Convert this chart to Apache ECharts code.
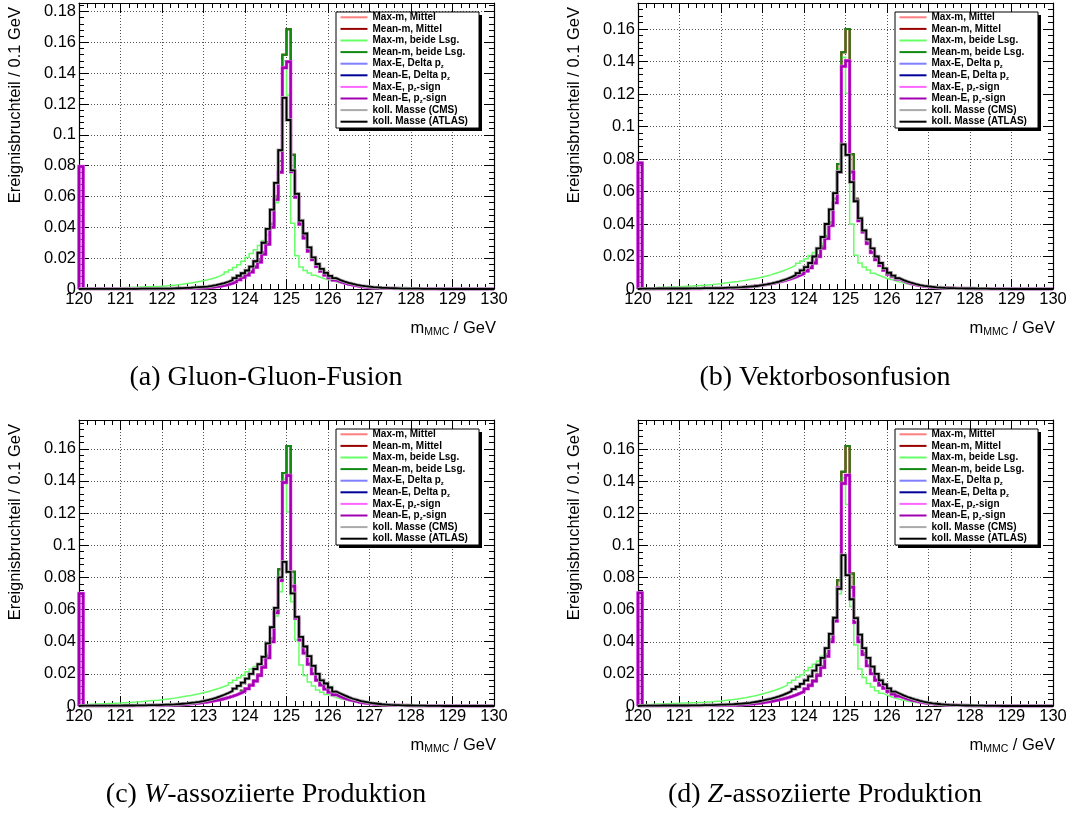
<!DOCTYPE html>
<html>
<head>
<meta charset="utf-8">
<title>MMC Massenverteilungen</title>
<script src="https://cdn.jsdelivr.net/npm/echarts@6/dist/echarts.min.js"></script>
<style>
  html, body { margin: 0; padding: 0; background: #fff; overflow: hidden; }
  #fig { position: relative; width: 1083px; height: 817px; background: #fff; }
  .panel { position: absolute; width: 541px; height: 400px; }
</style>
</head>
<body>
<div id="fig">
  <div class="panel" id="pa" style="left:0;top:0"></div>
  <div class="panel" id="pb" style="left:559px;top:0"></div>
  <div class="panel" id="pc" style="left:0;top:417px"></div>
  <div class="panel" id="pd" style="left:559px;top:417px"></div>
</div>
<script>
// Histogram binning: 100 bins of 0.1 GeV from 120 to 130 GeV
const BIN_LOW = 120;
const BIN_HIGH = 130;
const BIN_COUNT = 100;

// x tick labels
const xTickLabels = ['120', '121', '122', '123', '124', '125', '126', '127', '128', '129', '130'];

// Legend entries (series names, in drawing order)
const methodNames = [
  'Max-m, Mittel', 'Mean-m, Mittel', 'Max-m, beide Lsg.', 'Mean-m, beide Lsg.',
  'Max-E, Delta pz', 'Mean-E, Delta pz', 'Max-E, pz-sign', 'Mean-E, pz-sign',
  'koll. Masse (CMS)', 'koll. Masse (ATLAS)'
];

// ---------- (a) Gluon-Gluon-Fusion ----------
const ggfMassMean = [
  0.0001,0.0001,0.0001,0.0001,0.0001,0.0001,0.0001,0.0001,0.0001,0.0001,
  0.0001,0.0001,0.0001,0.0001,0.0001,0.0001,0.0002,0.0002,0.0002,0.0002,
  0.0002,0.0002,0.0003,0.0003,0.0004,0.0005,0.0005,0.0006,0.0007,0.0009,
  0.0010,0.0012,0.0015,0.0019,0.0024,0.0031,0.0039,0.0050,0.0063,0.0078,
  0.0095,0.0117,0.0148,0.0185,0.0236,0.0305,0.0420,0.0600,0.0830,0.1520,
  0.1685,0.0870,0.0620,0.0440,0.0340,0.0255,0.0197,0.0150,0.0118,0.0093,
  0.0074,0.0060,0.0048,0.0039,0.0032,0.0026,0.0021,0.0017,0.0013,0.0011,
  0.0009,0.0007,0.0006,0.0005,0.0004,0.0003,0.0003,0.0002,0.0002,0.0002,
  0.0001,0.0001,0.0001,0.0001,0.0001,0.0001,0,0,0,0,
  0,0,0,0,0,0,0,0,0,0
];
const ggfMassBoth = [
  0.0004,0.0004,0.0005,0.0005,0.0005,0.0006,0.0006,0.0007,0.0007,0.0008,
  0.0009,0.0010,0.0011,0.0012,0.0013,0.0014,0.0015,0.0016,0.0017,0.0018,
  0.0020,0.0022,0.0025,0.0028,0.0031,0.0035,0.0039,0.0044,0.0049,0.0054,
  0.0060,0.0067,0.0075,0.0085,0.0097,0.0110,0.0124,0.0140,0.0158,0.0180,
  0.0205,0.0230,0.0255,0.0282,0.0315,0.0350,0.0430,0.0560,0.0770,0.1480,
  0.1258,0.0427,0.0215,0.0142,0.0120,0.0103,0.0089,0.0078,0.0068,0.0060,
  0.0053,0.0046,0.0040,0.0034,0.0029,0.0024,0.0020,0.0017,0.0014,0.0012,
  0.0010,0.0008,0.0007,0.0006,0.0005,0.0004,0.0003,0.0003,0.0002,0.0002,
  0.0002,0.0001,0.0001,0.0001,0.0001,0.0001,0,0,0,0,
  0,0,0,0,0,0,0,0,0,0
];
const ggfEnergy = [
  0.0795,0.0001,0.0001,0.0001,0.0001,0.0001,0.0001,0.0001,0.0001,0.0001,
  0.0001,0.0001,0.0001,0.0001,0.0001,0.0001,0.0002,0.0002,0.0002,0.0002,
  0.0002,0.0002,0.0003,0.0003,0.0004,0.0004,0.0005,0.0006,0.0007,0.0008,
  0.0009,0.0011,0.0014,0.0018,0.0023,0.0029,0.0037,0.0047,0.0060,0.0074,
  0.0090,0.0110,0.0140,0.0175,0.0225,0.0290,0.0400,0.0580,0.0757,0.1435,
  0.1474,0.0760,0.0595,0.0420,0.0330,0.0245,0.0190,0.0145,0.0115,0.0090,
  0.0072,0.0058,0.0047,0.0038,0.0031,0.0025,0.0020,0.0016,0.0013,0.0010,
  0.0008,0.0007,0.0006,0.0005,0.0004,0.0003,0.0003,0.0002,0.0002,0.0002,
  0.0001,0.0001,0.0001,0.0001,0.0001,0.0001,0,0,0,0,
  0,0,0,0,0,0,0,0,0,0
];
const ggfCollinear = [
  0.0001,0.0001,0.0001,0.0001,0.0001,0.0001,0.0001,0.0001,0.0001,0.0001,
  0.0001,0.0001,0.0001,0.0001,0.0002,0.0002,0.0002,0.0002,0.0002,0.0003,
  0.0003,0.0003,0.0004,0.0005,0.0006,0.0007,0.0008,0.0010,0.0012,0.0014,
  0.0016,0.0020,0.0025,0.0031,0.0038,0.0047,0.0058,0.0071,0.0086,0.0102,
  0.0120,0.0145,0.0180,0.0235,0.0300,0.0390,0.0515,0.0688,0.0900,0.1240,
  0.1096,0.0770,0.0617,0.0444,0.0360,0.0270,0.0205,0.0162,0.0130,0.0105,
  0.0085,0.0070,0.0058,0.0048,0.0040,0.0033,0.0027,0.0022,0.0018,0.0015,
  0.0012,0.0010,0.0008,0.0007,0.0006,0.0005,0.0004,0.0003,0.0003,0.0002,
  0.0002,0.0002,0.0001,0.0001,0.0001,0.0001,0.0001,0,0,0,
  0,0,0,0,0,0,0,0,0,0
];

// ---------- (b) Vektorbosonfusion ----------
const vbfMassMean = [
  0.0001,0.0001,0.0001,0.0001,0.0001,0.0001,0.0001,0.0001,0.0001,0.0001,
  0.0001,0.0002,0.0002,0.0002,0.0002,0.0003,0.0003,0.0003,0.0004,0.0004,
  0.0005,0.0006,0.0007,0.0008,0.0010,0.0012,0.0014,0.0017,0.0021,0.0025,
  0.0029,0.0033,0.0038,0.0044,0.0050,0.0058,0.0066,0.0075,0.0086,0.0098,
  0.0115,0.0136,0.0167,0.0208,0.0262,0.0325,0.0410,0.0555,0.0770,0.1457,
  0.1600,0.0830,0.0555,0.0430,0.0355,0.0285,0.0228,0.0183,0.0147,0.0117,
  0.0092,0.0076,0.0063,0.0051,0.0041,0.0033,0.0027,0.0021,0.0017,0.0014,
  0.0011,0.0009,0.0008,0.0007,0.0006,0.0005,0.0004,0.0003,0.0003,0.0003,
  0.0002,0.0002,0.0002,0.0001,0.0001,0.0001,0.0001,0.0001,0,0,
  0,0,0,0,0,0,0,0,0,0
];
const vbfMassBoth = [
  0.0005,0.0006,0.0007,0.0008,0.0009,0.0010,0.0011,0.0012,0.0013,0.0014,
  0.0016,0.0017,0.0018,0.0020,0.0021,0.0023,0.0025,0.0027,0.0030,0.0033,
  0.0037,0.0040,0.0043,0.0046,0.0050,0.0054,0.0058,0.0063,0.0068,0.0074,
  0.0080,0.0087,0.0095,0.0103,0.0112,0.0122,0.0133,0.0145,0.0158,0.0172,
  0.0186,0.0205,0.0225,0.0250,0.0280,0.0330,0.0410,0.0550,0.0740,0.1426,
  0.1205,0.0400,0.0207,0.0160,0.0135,0.0117,0.0097,0.0085,0.0075,0.0065,
  0.0058,0.0050,0.0043,0.0037,0.0031,0.0026,0.0022,0.0018,0.0015,0.0012,
  0.0010,0.0008,0.0007,0.0006,0.0005,0.0004,0.0003,0.0003,0.0002,0.0002,
  0.0002,0.0001,0.0001,0.0001,0.0001,0.0001,0,0,0,0,
  0,0,0,0,0,0,0,0,0,0
];
const vbfEnergy = [
  0.0775,0.0001,0.0001,0.0001,0.0001,0.0001,0.0001,0.0001,0.0001,0.0001,
  0.0001,0.0002,0.0002,0.0002,0.0002,0.0003,0.0003,0.0003,0.0004,0.0004,
  0.0005,0.0006,0.0007,0.0008,0.0010,0.0012,0.0014,0.0017,0.0020,0.0024,
  0.0028,0.0032,0.0037,0.0043,0.0049,0.0056,0.0064,0.0073,0.0083,0.0094,
  0.0110,0.0130,0.0160,0.0200,0.0250,0.0310,0.0390,0.0530,0.0720,0.1370,
  0.1405,0.0720,0.0545,0.0420,0.0350,0.0280,0.0225,0.0180,0.0145,0.0115,
  0.0090,0.0075,0.0062,0.0050,0.0040,0.0032,0.0026,0.0021,0.0017,0.0014,
  0.0011,0.0009,0.0008,0.0007,0.0006,0.0005,0.0004,0.0003,0.0003,0.0003,
  0.0002,0.0002,0.0002,0.0001,0.0001,0.0001,0.0001,0.0001,0,0,
  0,0,0,0,0,0,0,0,0,0
];
const vbfCollinear = [
  0.0002,0.0002,0.0002,0.0002,0.0003,0.0003,0.0003,0.0003,0.0003,0.0003,
  0.0003,0.0003,0.0004,0.0004,0.0004,0.0005,0.0005,0.0005,0.0006,0.0006,
  0.0007,0.0008,0.0009,0.0010,0.0011,0.0013,0.0015,0.0017,0.0020,0.0024,
  0.0028,0.0033,0.0039,0.0046,0.0054,0.0063,0.0073,0.0085,0.0098,0.0115,
  0.0135,0.0160,0.0200,0.0250,0.0320,0.0400,0.0490,0.0590,0.0720,0.0890,
  0.0825,0.0658,0.0540,0.0435,0.0360,0.0305,0.0250,0.0200,0.0160,0.0127,
  0.0100,0.0082,0.0067,0.0055,0.0045,0.0037,0.0030,0.0024,0.0019,0.0016,
  0.0013,0.0010,0.0009,0.0007,0.0006,0.0005,0.0004,0.0004,0.0003,0.0003,
  0.0003,0.0002,0.0002,0.0002,0.0001,0.0001,0.0001,0.0001,0.0001,0,
  0,0,0,0,0,0,0,0,0,0
];

// ---------- (c) W-assoziierte Produktion ----------
const whMassMean = [
  0.0001,0.0001,0.0001,0.0001,0.0001,0.0001,0.0001,0.0001,0.0001,0.0001,
  0.0002,0.0002,0.0002,0.0002,0.0002,0.0003,0.0003,0.0003,0.0003,0.0003,
  0.0005,0.0006,0.0007,0.0008,0.0009,0.0011,0.0013,0.0016,0.0019,0.0022,
  0.0026,0.0030,0.0035,0.0040,0.0046,0.0054,0.0062,0.0071,0.0082,0.0095,
  0.0110,0.0132,0.0160,0.0196,0.0248,0.0312,0.0420,0.0600,0.0850,0.1450,
  0.1617,0.0835,0.0560,0.0420,0.0337,0.0265,0.0204,0.0163,0.0133,0.0107,
  0.0087,0.0071,0.0059,0.0049,0.0041,0.0034,0.0028,0.0023,0.0018,0.0015,
  0.0012,0.0010,0.0008,0.0007,0.0006,0.0005,0.0004,0.0003,0.0003,0.0002,
  0.0002,0.0002,0.0001,0.0001,0.0001,0.0001,0.0001,0,0,0,
  0,0,0,0,0,0,0,0,0,0
];
const whMassBoth = [
  0.0008,0.0010,0.0011,0.0012,0.0013,0.0014,0.0015,0.0016,0.0017,0.0018,
  0.0020,0.0021,0.0023,0.0025,0.0027,0.0030,0.0032,0.0034,0.0036,0.0039,
  0.0042,0.0045,0.0049,0.0053,0.0057,0.0062,0.0066,0.0071,0.0076,0.0082,
  0.0089,0.0096,0.0104,0.0112,0.0121,0.0131,0.0145,0.0160,0.0175,0.0190,
  0.0213,0.0230,0.0245,0.0265,0.0286,0.0330,0.0420,0.0560,0.0710,0.1410,
  0.1207,0.0648,0.0410,0.0255,0.0190,0.0150,0.0124,0.0100,0.0085,0.0072,
  0.0062,0.0053,0.0045,0.0038,0.0032,0.0027,0.0023,0.0019,0.0016,0.0013,
  0.0011,0.0009,0.0008,0.0006,0.0005,0.0004,0.0004,0.0003,0.0003,0.0002,
  0.0002,0.0002,0.0001,0.0001,0.0001,0.0001,0,0,0,0,
  0,0,0,0,0,0,0,0,0,0
];
const whEnergy = [
  0.0700,0.0001,0.0001,0.0001,0.0001,0.0001,0.0001,0.0001,0.0001,0.0001,
  0.0002,0.0002,0.0002,0.0002,0.0002,0.0003,0.0003,0.0003,0.0003,0.0003,
  0.0005,0.0006,0.0007,0.0008,0.0009,0.0011,0.0013,0.0015,0.0018,0.0021,
  0.0025,0.0029,0.0034,0.0039,0.0045,0.0052,0.0060,0.0069,0.0080,0.0092,
  0.0107,0.0128,0.0155,0.0190,0.0240,0.0300,0.0400,0.0580,0.0780,0.1390,
  0.1434,0.0745,0.0545,0.0410,0.0330,0.0260,0.0200,0.0160,0.0130,0.0105,
  0.0085,0.0070,0.0058,0.0048,0.0040,0.0033,0.0027,0.0022,0.0018,0.0015,
  0.0012,0.0010,0.0008,0.0007,0.0006,0.0005,0.0004,0.0003,0.0003,0.0002,
  0.0002,0.0002,0.0001,0.0001,0.0001,0.0001,0.0001,0,0,0,
  0,0,0,0,0,0,0,0,0,0
];
const whCollinear = [
  0.0002,0.0002,0.0002,0.0002,0.0002,0.0002,0.0002,0.0002,0.0002,0.0002,
  0.0003,0.0003,0.0003,0.0004,0.0004,0.0004,0.0005,0.0005,0.0006,0.0007,
  0.0008,0.0009,0.0010,0.0012,0.0014,0.0016,0.0019,0.0022,0.0026,0.0031,
  0.0037,0.0043,0.0051,0.0060,0.0070,0.0081,0.0093,0.0108,0.0125,0.0145,
  0.0170,0.0200,0.0230,0.0260,0.0306,0.0390,0.0490,0.0610,0.0800,0.0896,
  0.0834,0.0700,0.0555,0.0430,0.0370,0.0310,0.0250,0.0200,0.0160,0.0140,
  0.0115,0.0090,0.0078,0.0066,0.0055,0.0045,0.0038,0.0031,0.0026,0.0021,
  0.0017,0.0014,0.0011,0.0009,0.0007,0.0006,0.0005,0.0004,0.0003,0.0003,
  0.0002,0.0002,0.0002,0.0001,0.0001,0.0001,0.0001,0,0,0,
  0,0,0,0,0,0,0,0,0,0
];

// ---------- (d) Z-assoziierte Produktion ----------
const zhMassMean = [
  0.0001,0.0001,0.0001,0.0001,0.0001,0.0001,0.0001,0.0001,0.0001,0.0001,
  0.0002,0.0002,0.0002,0.0002,0.0002,0.0003,0.0003,0.0003,0.0003,0.0003,
  0.0004,0.0005,0.0006,0.0007,0.0008,0.0010,0.0012,0.0015,0.0018,0.0021,
  0.0025,0.0029,0.0034,0.0039,0.0046,0.0053,0.0061,0.0070,0.0081,0.0093,
  0.0111,0.0132,0.0160,0.0196,0.0248,0.0320,0.0415,0.0550,0.0784,0.1460,
  0.1620,0.0825,0.0550,0.0410,0.0327,0.0256,0.0205,0.0164,0.0133,0.0112,
  0.0092,0.0077,0.0063,0.0053,0.0044,0.0037,0.0030,0.0025,0.0020,0.0016,
  0.0013,0.0011,0.0009,0.0007,0.0006,0.0005,0.0004,0.0003,0.0003,0.0002,
  0.0002,0.0002,0.0001,0.0001,0.0001,0.0001,0,0,0,0,
  0,0,0,0,0,0,0,0,0,0
];
const zhMassBoth = [
  0.0008,0.0009,0.0010,0.0011,0.0012,0.0013,0.0014,0.0015,0.0016,0.0017,
  0.0018,0.0019,0.0020,0.0021,0.0022,0.0023,0.0025,0.0027,0.0029,0.0031,
  0.0034,0.0037,0.0040,0.0044,0.0048,0.0052,0.0057,0.0062,0.0068,0.0075,
  0.0083,0.0090,0.0098,0.0107,0.0118,0.0130,0.0145,0.0160,0.0180,0.0195,
  0.0220,0.0240,0.0260,0.0280,0.0310,0.0360,0.0440,0.0550,0.0700,0.1420,
  0.1255,0.0620,0.0380,0.0230,0.0178,0.0140,0.0118,0.0095,0.0080,0.0068,
  0.0058,0.0050,0.0042,0.0036,0.0030,0.0025,0.0021,0.0018,0.0015,0.0012,
  0.0010,0.0008,0.0007,0.0006,0.0005,0.0004,0.0003,0.0003,0.0002,0.0002,
  0.0002,0.0001,0.0001,0.0001,0.0001,0.0001,0,0,0,0,
  0,0,0,0,0,0,0,0,0,0
];
const zhEnergy = [
  0.0705,0.0001,0.0001,0.0001,0.0001,0.0001,0.0001,0.0001,0.0001,0.0001,
  0.0002,0.0002,0.0002,0.0002,0.0002,0.0003,0.0003,0.0003,0.0003,0.0003,
  0.0004,0.0005,0.0006,0.0007,0.0008,0.0010,0.0012,0.0014,0.0017,0.0020,
  0.0024,0.0028,0.0033,0.0038,0.0044,0.0051,0.0059,0.0068,0.0078,0.0090,
  0.0107,0.0128,0.0155,0.0190,0.0240,0.0310,0.0400,0.0530,0.0735,0.1386,
  0.1438,0.0740,0.0520,0.0400,0.0320,0.0250,0.0200,0.0160,0.0130,0.0110,
  0.0090,0.0075,0.0062,0.0052,0.0043,0.0036,0.0030,0.0025,0.0020,0.0016,
  0.0013,0.0011,0.0009,0.0007,0.0006,0.0005,0.0004,0.0003,0.0003,0.0002,
  0.0002,0.0002,0.0001,0.0001,0.0001,0.0001,0,0,0,0,
  0,0,0,0,0,0,0,0,0,0
];
const zhCollinear = [
  0.0002,0.0002,0.0002,0.0002,0.0002,0.0003,0.0003,0.0003,0.0003,0.0003,
  0.0003,0.0003,0.0004,0.0004,0.0004,0.0005,0.0005,0.0006,0.0007,0.0008,
  0.0009,0.0010,0.0011,0.0013,0.0015,0.0017,0.0020,0.0024,0.0028,0.0033,
  0.0039,0.0045,0.0052,0.0060,0.0069,0.0080,0.0092,0.0105,0.0120,0.0138,
  0.0160,0.0185,0.0220,0.0255,0.0300,0.0360,0.0450,0.0550,0.0730,0.0940,
  0.0815,0.0665,0.0548,0.0445,0.0360,0.0300,0.0245,0.0200,0.0160,0.0135,
  0.0110,0.0090,0.0078,0.0066,0.0056,0.0047,0.0039,0.0032,0.0026,0.0021,
  0.0017,0.0014,0.0011,0.0009,0.0007,0.0006,0.0005,0.0004,0.0003,0.0003,
  0.0002,0.0002,0.0002,0.0001,0.0001,0.0001,0.0001,0,0,0,
  0,0,0,0,0,0,0,0,0,0
];

// Upper edge of each y axis (10 % head room above the tallest bin)
const yMaxGgf = 0.1855;
const yMaxVbf = 0.1760;
const yMaxWh = 0.1779;
const yMaxZh = 0.1782;

// ---------------------------------------------------------------------------
const SANS = '"Liberation Sans", Arial, Helvetica, sans-serif';
const SERIF = '"Liberation Serif", "Times New Roman", serif';

// Line style of each method, same order as methodNames
const methodStyles = [
  { color: '#ff7f7f', width: 2.0, src: 'massMean' },
  { color: '#990000', width: 2.0, src: 'massMean' },
  { color: '#66ff66', width: 1.5, src: 'massBoth' },
  { color: '#118a11', width: 2.0, src: 'massMean' },
  { color: '#7f7fff', width: 2.4, src: 'energy' },
  { color: '#000099', width: 2.4, src: 'energy' },
  { color: '#ff66ff', width: 3.4, src: 'energy' },
  { color: '#a000b0', width: 2.4, src: 'energy' },
  { color: '#aaaaaa', width: 3.4, src: 'coll' },
  { color: '#000000', width: 1.8, src: 'coll' }
];

// Turn bin contents into step-line points on the bin edges
function histPoints(values) {
  const pts = [[BIN_LOW, 0]];
  for (let i = 0; i < BIN_COUNT; i++) {
    pts.push([+(BIN_LOW + i * (BIN_HIGH - BIN_LOW) / BIN_COUNT).toFixed(1), values[i]]);
  }
  pts.push([BIN_HIGH, values[BIN_COUNT - 1]]);
  return pts;
}

function frameX(position, withLabels) {
  return {
    type: 'value', gridIndex: 0, position: position,
    min: BIN_LOW, max: BIN_HIGH, interval: 1,
    axisLine: { show: true, onZero: false, lineStyle: { color: '#000', width: 1.2 } },
    axisTick: { show: true, inside: true, length: 10, lineStyle: { color: '#000', width: 1 } },
    minorTick: { show: true, splitNumber: 5, length: 5, lineStyle: { color: '#000', width: 1 } },
    axisLabel: {
      show: withLabels, margin: 2, color: '#000', fontFamily: SANS, fontSize: 16.5,
      formatter: function (v) { return xTickLabels[Math.round(v - BIN_LOW)]; }
    },
    splitLine: { show: withLabels, lineStyle: { color: '#555', width: 1, type: [1, 2] } }
  };
}

function frameY(position, yMax, major) {
  return {
    type: 'value', gridIndex: 0, position: position,
    min: 0, max: yMax, interval: major ? 0.02 : 0.004,
    axisLine: { show: major, onZero: false, lineStyle: { color: '#000', width: 1.2 } },
    axisTick: { show: true, inside: true, length: major ? 10 : 5, lineStyle: { color: '#000', width: 1 } },
    axisLabel: {
      show: major && position === 'left', margin: 3, color: '#000', fontFamily: SANS, fontSize: 16.5,
      showMaxLabel: false,
      formatter: function (v) {
        const k = v / 0.02;
        if (Math.abs(k - Math.round(k)) > 1e-6) return '';
        return String(+v.toFixed(2));
      }
    },
    splitLine: { show: major && position === 'left', lineStyle: { color: '#555', width: 1, type: [1, 2] } }
  };
}

function drawPanel(elId, data, yMax, caption) {
  const chart = echarts.init(document.getElementById(elId), null, { renderer: 'canvas' });
  const G = { left: 79, top: 3, width: 415, height: 286 };
  const LG = { left: G.left + 257, top: G.top + 9, width: 143, height: 116 };

  const series = methodNames.map(function (name, k) {
    const st = methodStyles[k];
    return {
      name: name, type: 'line', step: 'end', xAxisIndex: 0, yAxisIndex: 0,
      data: histPoints(data[st.src]),
      symbol: 'none', showSymbol: false, clip: true,
      color: st.color,
      itemStyle: { color: st.color },
      lineStyle: { color: st.color, width: st.width, join: 'miter' },
      emphasis: { disabled: true },
      animation: false
    };
  });

  chart.setOption({
    backgroundColor: '#fff',
    animation: false,
    grid: { left: G.left, top: G.top, width: G.width, height: G.height, containLabel: false, outerBoundsMode: 'none' },
    xAxis: [frameX('bottom', true), frameX('top', false)],
    yAxis: [frameY('left', yMax, true), frameY('left', yMax, false), frameY('right', yMax, true), frameY('right', yMax, false)],
    legend: {
      orient: 'vertical', left: LG.left + 4.5, top: LG.top - 0.5,
      itemWidth: 27, itemHeight: 2, itemGap: 0, icon: 'rect',
      selectedMode: false, padding: 0,
      data: methodNames,
      formatter: function (n) { return n.replace('pz', 'p{z|z}'); },
      textStyle: {
        fontFamily: SANS, fontSize: 10, fontWeight: 'bold', color: '#000', lineHeight: 11.6,
        rich: { z: { fontFamily: SANS, fontSize: 6, fontWeight: 'bold', color: '#000', lineHeight: 6, verticalAlign: 'bottom' } }
      }
    },
    series: series,
    graphic: [
      // legend frame with drop shadow
      { type: 'rect', z: 3, z2: 0, silent: true, shape: { x: LG.left + 3, y: LG.top + 3, width: LG.width, height: LG.height }, style: { fill: '#000' } },
      { type: 'rect', z: 3, z2: 1, silent: true, shape: { x: LG.left, y: LG.top, width: LG.width, height: LG.height }, style: { fill: '#fff', stroke: '#000', lineWidth: 1 } },
      // y axis title
      { type: 'text', z: 5, silent: true, x: 15, y: G.top + 4, rotation: Math.PI / 2,
        style: { text: 'Ereignisbruchteil / 0.1 GeV', fill: '#000', font: '16.5px ' + SANS, align: 'right', verticalAlign: 'middle' } },
      // x axis title
      { type: 'text', z: 5, silent: true, x: G.left + G.width + 2, y: 328,
        style: { text: '{a|m}{s|MMC}{a| / GeV}', align: 'right', verticalAlign: 'middle',
          rich: {
            a: { fontFamily: SANS, fontSize: 16.5, fill: '#000', lineHeight: 20 },
            s: { fontFamily: SANS, fontSize: 10.5, fill: '#000', lineHeight: 10, verticalAlign: 'bottom' }
          } } },
      // sub-figure caption
      { type: 'text', z: 5, silent: true, x: 266, y: 378,
        style: { text: caption, align: 'center', verticalAlign: 'middle',
          rich: {
            n: { fontFamily: SERIF, fontSize: 28, fill: '#000' },
            i: { fontFamily: SERIF, fontSize: 28, fontStyle: 'italic', fill: '#000' }
          } } }
    ]
  });
}

drawPanel('pa', { massMean: ggfMassMean, massBoth: ggfMassBoth, energy: ggfEnergy, coll: ggfCollinear }, yMaxGgf,
  '{n|(a) Gluon-Gluon-Fusion}');
drawPanel('pb', { massMean: vbfMassMean, massBoth: vbfMassBoth, energy: vbfEnergy, coll: vbfCollinear }, yMaxVbf,
  '{n|(b) Vektorbosonfusion}');
drawPanel('pc', { massMean: whMassMean, massBoth: whMassBoth, energy: whEnergy, coll: whCollinear }, yMaxWh,
  '{n|(c) }{i|W}{n|-assoziierte Produktion}');
drawPanel('pd', { massMean: zhMassMean, massBoth: zhMassBoth, energy: zhEnergy, coll: zhCollinear }, yMaxZh,
  '{n|(d) }{i|Z}{n|-assoziierte Produktion}');
</script>
</body>
</html>
